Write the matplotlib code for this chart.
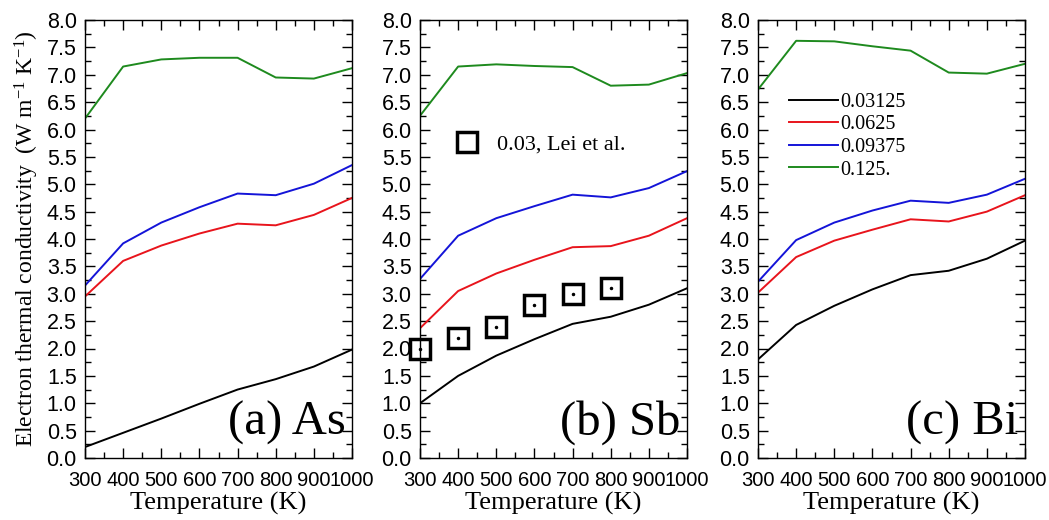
import numpy as np
import matplotlib
matplotlib.use("Agg")
import matplotlib.pyplot as plt
from matplotlib.ticker import MultipleLocator

#data
temps = [300, 400, 500, 600, 700, 800, 900, 1000]
conc_labels = ["0.03125", "0.0625", "0.09375", "0.125."]
colors = ["black", "#e8141c", "#1414d8", "#1e8a1e"]

as_k = [[0.20, 0.46, 0.72, 0.99, 1.25, 1.44, 1.67, 1.98],
        [2.95, 3.60, 3.88, 4.10, 4.28, 4.25, 4.44, 4.75],
        [3.15, 3.92, 4.30, 4.58, 4.83, 4.80, 5.01, 5.35],
        [6.20, 7.15, 7.28, 7.31, 7.31, 6.95, 6.93, 7.12]]
sb_k = [[1.00, 1.50, 1.87, 2.17, 2.45, 2.58, 2.80, 3.10],
        [2.37, 3.05, 3.37, 3.62, 3.85, 3.87, 4.06, 4.38],
        [3.27, 4.06, 4.38, 4.60, 4.81, 4.76, 4.93, 5.24],
        [6.25, 7.15, 7.19, 7.16, 7.14, 6.80, 6.82, 7.03]]
bi_k = [[1.80, 2.43, 2.78, 3.08, 3.34, 3.42, 3.64, 3.97],
        [3.02, 3.67, 3.97, 4.17, 4.36, 4.32, 4.50, 4.80],
        [3.22, 3.98, 4.30, 4.52, 4.70, 4.66, 4.81, 5.10],
        [6.73, 7.62, 7.61, 7.52, 7.44, 7.04, 7.02, 7.20]]

lei_T = [300, 400, 500, 600, 700, 800]
lei_k = [2.0, 2.2, 2.4, 2.8, 3.0, 3.1]

panel_titles = ["(a) As", "(b) Sb", "(c) Bi"]

serif = "Liberation Serif"
sans = "Liberation Sans"
plt.rcParams["mathtext.fontset"] = "custom"
plt.rcParams["mathtext.rm"] = serif
plt.rcParams["mathtext.it"] = serif + ":italic"

fig = plt.figure(figsize=(10.49, 5.2), dpi=100)
lefts = [85, 420, 758]
axes = []
for l in lefts:
    ax = fig.add_axes([l / 1049, (520 - 458) / 520, 267 / 1049, 438 / 520])
    axes.append(ax)

for ax, data, title in zip(axes, [as_k, sb_k, bi_k], panel_titles):
    for vals, c, lab in zip(data, colors, conc_labels):
        ax.plot(temps, vals, color=c, lw=1.4, label=lab)
    ax.set_xlim(300, 1000)
    ax.set_ylim(0, 8)
    ax.xaxis.set_major_locator(MultipleLocator(100))
    ax.xaxis.set_minor_locator(MultipleLocator(50))
    ax.yaxis.set_major_locator(MultipleLocator(0.5))
    ax.yaxis.set_minor_locator(MultipleLocator(0.25))
    ax.tick_params(which="both", direction="in", top=True, right=True)
    ax.tick_params(which="major", length=7, width=1)
    ax.tick_params(which="minor", length=4, width=1)
    ax.tick_params(axis="y", labelsize=15.5, pad=6)
    ax.tick_params(axis="x", labelsize=14.5, pad=9)
    for lbl in ax.get_xticklabels() + ax.get_yticklabels():
        lbl.set_fontfamily(sans)
    ax.yaxis.set_major_formatter(matplotlib.ticker.FormatStrFormatter("%.1f"))
    for sp in ax.spines.values():
        sp.set_linewidth(1)
    ax.set_xlabel("Temperature (K)", fontsize=19, family=serif, labelpad=2)
    ax.text(0.975, 0.03, title, transform=ax.transAxes, ha="right", va="bottom",
            fontsize=35, family=serif)

# Lei et al. points
sq = axes[1].plot(lei_T, lei_k, ls="none", marker="s", ms=15, mfc="white",
                  mec="black", mew=2.5, clip_on=False, label="0.03, Lei et al.")
axes[1].plot(lei_T, lei_k, ls="none", marker=".", ms=3, color="black", clip_on=False)
axes[1].legend(handles=sq, loc="upper left", bbox_to_anchor=(0.04, 0.785), frameon=False,
               prop={"family": serif, "size": 16}, handletextpad=0.6,
               handlelength=1.5)

axes[2].legend(loc="upper left", bbox_to_anchor=(0.05, 0.875), frameon=False,
               prop={"family": serif, "size": 14.5}, handlelength=2.4,
               handletextpad=0.1, labelspacing=0.17)

axes[0].set_ylabel("Electron thermal conductivity  (W m$^{-1}$ K$^{-1}$)",
                   fontsize=17, family=serif, labelpad=4)

fig.savefig("out.png", dpi=100)
